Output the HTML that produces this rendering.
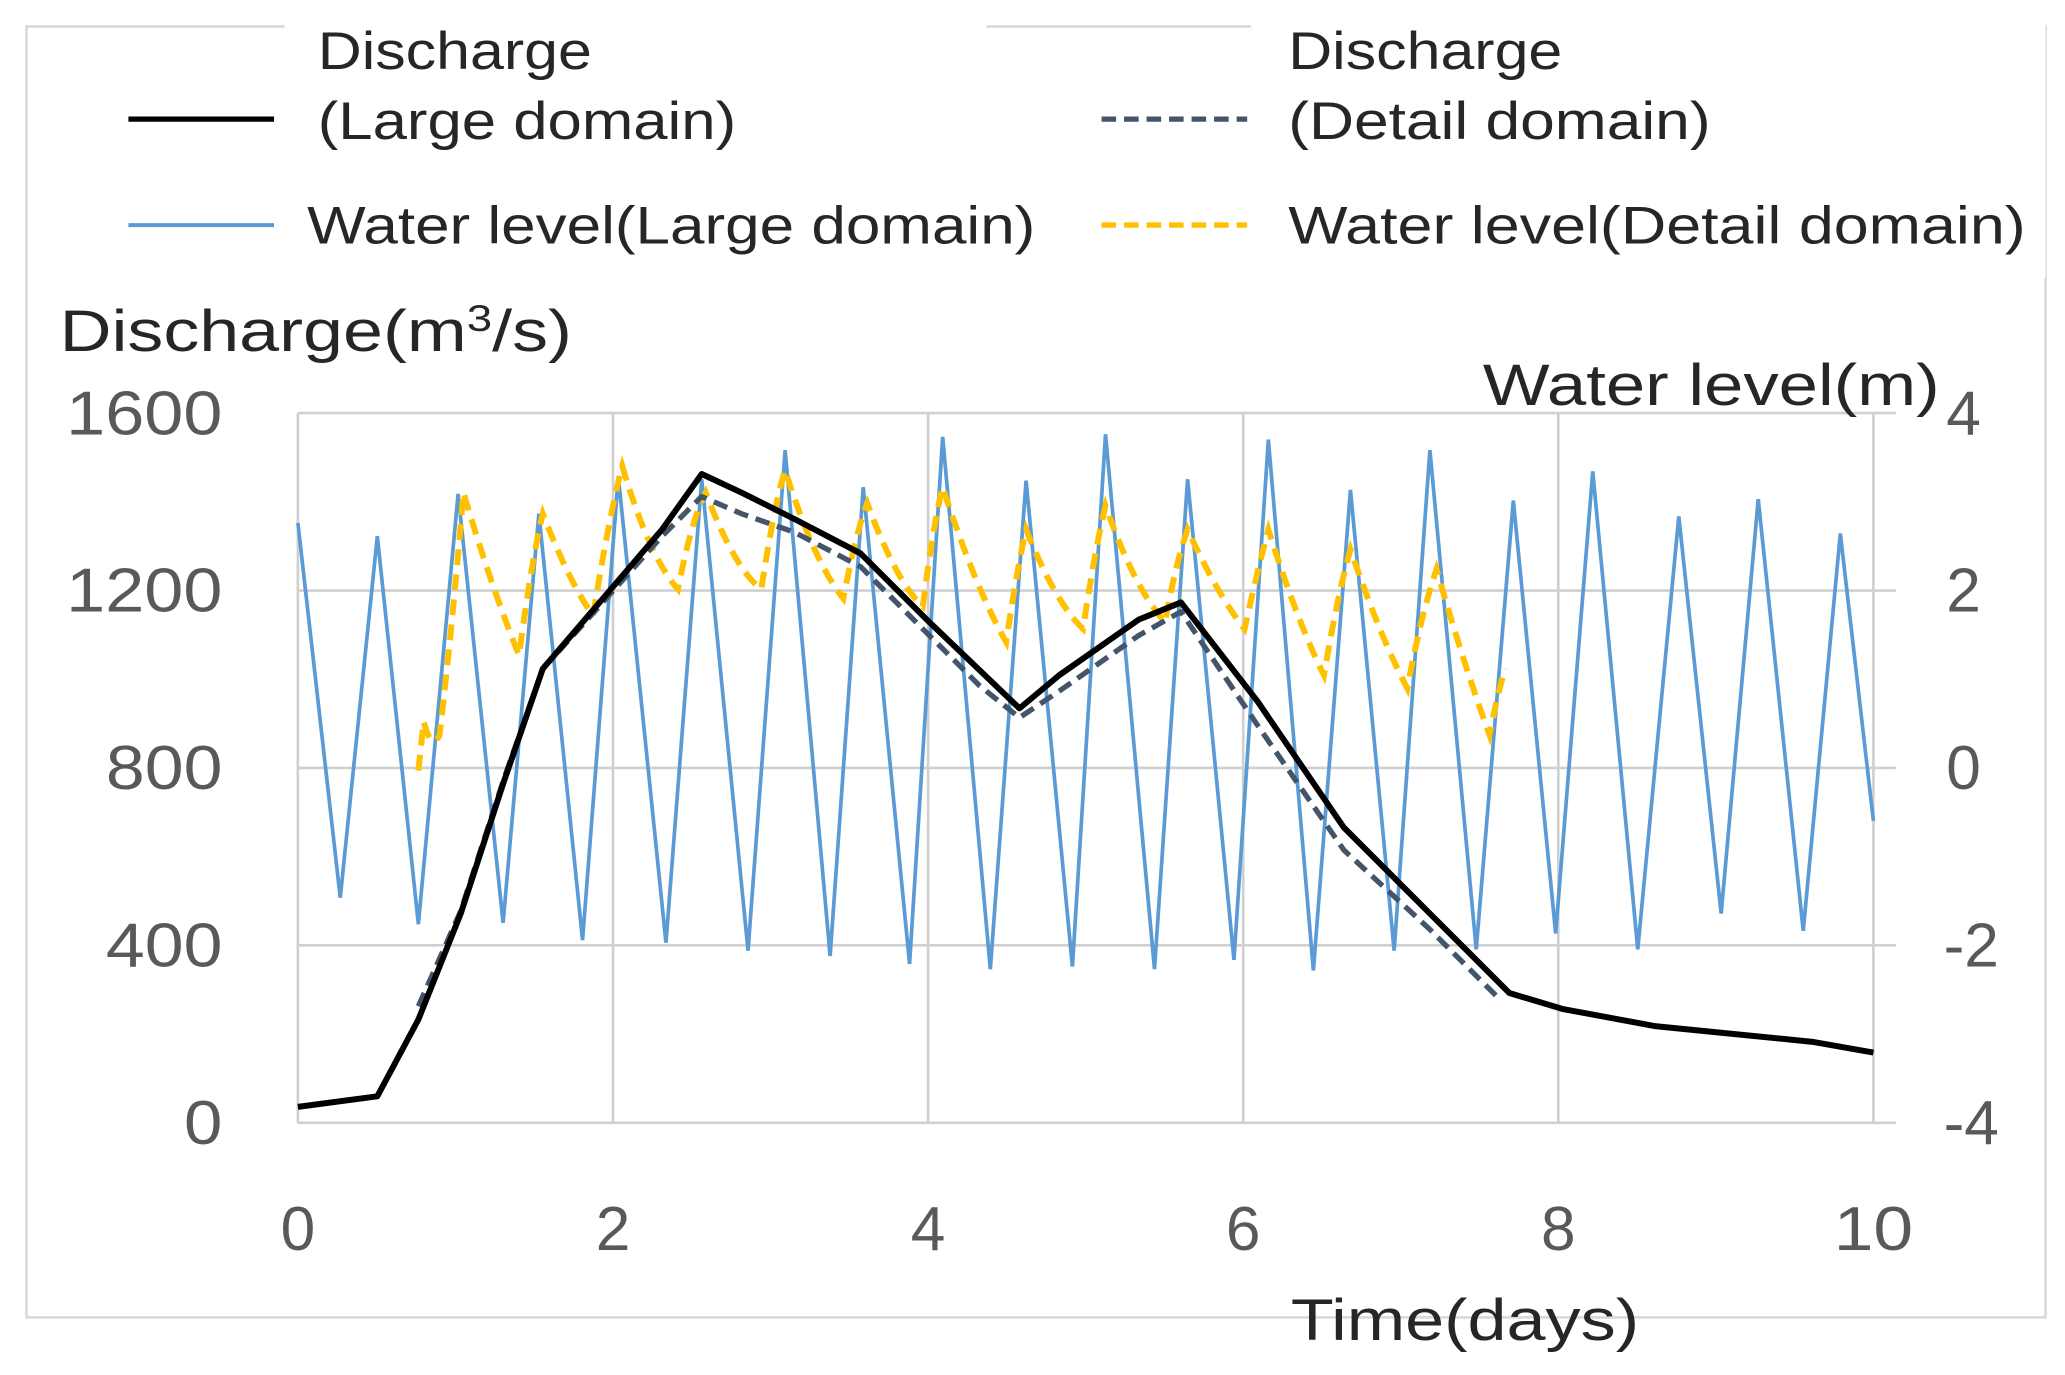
<!DOCTYPE html>
<html><head><meta charset="utf-8"><style>
html,body{margin:0;padding:0;background:#fff;}
svg{display:block;}
text{font-family:"Liberation Sans","Noto Sans CJK JP",sans-serif;}
</style></head><body>
<svg width="2065" height="1375" viewBox="0 0 1559.7 1038.5" preserveAspectRatio="none" xmlns="http://www.w3.org/2000/svg">
<rect x="0" y="0" width="1560" height="1039" fill="#fff"/>
<rect x="20" y="20" width="1525" height="975" fill="none" stroke="#d9d9d9" stroke-width="2"/>
<rect x="215" y="10" width="530" height="200" fill="#fff"/>
<rect x="945" y="10" width="600" height="200" fill="#fff"/>
<g stroke="#d0d0d0" stroke-width="2">
<line x1="225" y1="312" x2="1432" y2="312"/>
<line x1="225" y1="446" x2="1432" y2="446"/>
<line x1="225" y1="580" x2="1432" y2="580"/>
<line x1="225" y1="714" x2="1432" y2="714"/>
<line x1="225" y1="848" x2="1432" y2="848"/>
<line x1="225" y1="312" x2="225" y2="848"/>
<line x1="463" y1="312" x2="463" y2="848"/>
<line x1="701" y1="312" x2="701" y2="848"/>
<line x1="939" y1="312" x2="939" y2="848"/>
<line x1="1177" y1="312" x2="1177" y2="848"/>
<line x1="1415" y1="312" x2="1415" y2="848"/>
</g>
<g fill="#595959" font-size="47" lengthAdjust="spacingAndGlyphs">
<text x="50" y="328" textLength="118" lengthAdjust="spacingAndGlyphs">1600</text>
<text x="50" y="462" textLength="118" lengthAdjust="spacingAndGlyphs">1200</text>
<text x="80" y="596" textLength="88" lengthAdjust="spacingAndGlyphs">800</text>
<text x="80" y="730" textLength="88" lengthAdjust="spacingAndGlyphs">400</text>
<text x="139" y="864" textLength="29" lengthAdjust="spacingAndGlyphs">0</text>
<text x="1470" y="328">4</text>
<text x="1470" y="462">2</text>
<text x="1470" y="596">0</text>
<text x="1468" y="730">-2</text>
<text x="1468" y="864">-4</text>
<g text-anchor="middle">
<text x="225" y="944">0</text>
<text x="463" y="944">2</text>
<text x="701" y="944">4</text>
<text x="939" y="944">6</text>
<text x="1177" y="944">8</text>
<text x="1415" y="944" textLength="60" lengthAdjust="spacingAndGlyphs">10</text>
</g>
</g>
<g fill="#262626" font-size="44">
<text x="45" y="265" textLength="387" lengthAdjust="spacingAndGlyphs">Discharge(m<tspan font-size="28" dy="-15">3</tspan><tspan dy="15">/s)</tspan></text>
<text x="1120" y="306" textLength="345" lengthAdjust="spacingAndGlyphs">Water level(m)</text>
<text x="975" y="1012" textLength="263" lengthAdjust="spacingAndGlyphs">Time(days)</text>
</g>
<g font-size="40" fill="#262626">
<text x="240" y="52" textLength="207" lengthAdjust="spacingAndGlyphs">Discharge</text>
<text x="240" y="105" textLength="316" lengthAdjust="spacingAndGlyphs">(Large domain)</text>
<text x="973" y="52" textLength="207" lengthAdjust="spacingAndGlyphs">Discharge</text>
<text x="973" y="105" textLength="319" lengthAdjust="spacingAndGlyphs">(Detail domain)</text>
<text x="232" y="184" textLength="550" lengthAdjust="spacingAndGlyphs">Water level(Large domain)</text>
<text x="973" y="184" textLength="557" lengthAdjust="spacingAndGlyphs">Water level(Detail domain)</text>
</g>
<line x1="97" y1="90" x2="207" y2="90" stroke="#000" stroke-width="4"/>
<line x1="832" y1="90" x2="942" y2="90" stroke="#44546a" stroke-width="4" stroke-dasharray="11,6"/>
<line x1="97" y1="170" x2="207" y2="170" stroke="#5b9bd5" stroke-width="3"/>
<line x1="832" y1="170" x2="942" y2="170" stroke="#ffc000" stroke-width="4" stroke-dasharray="11,6"/>
<polyline fill="none" stroke="#5b9bd5" stroke-width="2.8" points="225,395 257,678 285,405 316,698 346,373 380,697 407,388 440,710 467,360 503,712 530,362 565,718 593,340 627,722 652,368 687,728 712,330 748,732 775,363 810,730 835,328 872,732 897,362 932,725 958,332 992,733 1020,370 1053,718 1080,340 1115,717 1143,378 1175,705 1203,356 1237,717 1268,390 1300,690 1328,377 1362,703 1390,403 1415,620"/>
<path fill="none" stroke="#ffc000" stroke-width="4.5" stroke-dasharray="12,7" d="M316,582 L320,545 Q326,568 332,555 Q342,470 350,372 Q370,440 392,495 Q402,420 410,388 Q430,440 448,465 Q460,390 470,352 Q490,420 512,445 Q523,390 533,372 Q555,430 575,445 Q585,380 593,355 Q615,425 637,452 Q647,400 655,380 Q677,440 697,458 Q705,395 712,368 Q737,445 760,485 Q768,430 775,400 Q797,455 818,475 Q827,415 835,382 Q857,445 880,470 Q888,425 897,400 Q920,450 940,475 Q950,430 958,400 Q980,470 1000,510 Q1010,450 1020,415 Q1042,480 1063,520 Q1073,465 1085,430 Q1105,500 1125,555 Q1132,520 1137,505"/>
<polyline fill="none" stroke="#44546a" stroke-width="4" stroke-dasharray="11,6" stroke-linejoin="round" points="316,760 348,688 380,590 410,505 440,472 500,405 530,375 560,388 600,402 650,428 700,478 740,518 770,542 800,522 860,480 892,462 950,548 1015,642 1080,702 1130,752"/>
<polyline fill="none" stroke="#000" stroke-width="4.5" stroke-linejoin="round" points="225,836 285,828 316,770 348,690 380,592 410,505 440,470 500,400 530,358 560,372 600,392 650,418 700,468 770,535 800,510 860,468 892,455 950,530 1015,625 1080,690 1140,750 1180,762 1250,775 1300,780 1370,787 1415,795"/>
</svg>
</body></html>
